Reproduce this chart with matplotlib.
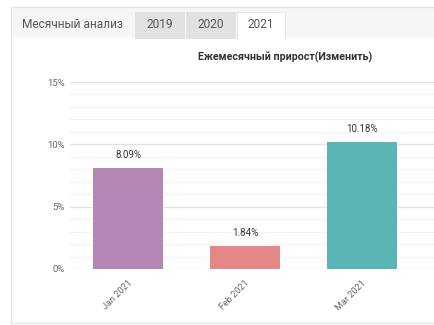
import matplotlib
import numpy as np

matplotlib.use("Agg")
import matplotlib.pyplot as plt
from matplotlib.patches import Rectangle
from matplotlib.ticker import FixedLocator, FuncFormatter

# 数据
months = ["Jan 2021", "Feb 2021", "Mar 2021"]
growth_pct = [8.09, 1.84, 10.18]
bar_colors = ["#b586b6", "#e38886", "#5bb5b5"]
y_major = [0, 5, 10, 15]
y_minor = list(range(0, 16))
tab_labels = ["Месячный анализ", "2019", "2020", "2021"]
title = "Ежемесячный прирост(Изменить)"

W, H = 434, 325
plt.rcParams["font.family"] = ["Roboto", "DejaVu Sans"]


def fx(px):
    return px / W


def fy(py):
    return 1 - py / H


def add_rect(fig, x0, y0, x1, y1, face, z=0):
    fig.patches.append(Rectangle((fx(x0), fy(y1)), fx(x1) - fx(x0), fy(y0) - fy(y1),
                                 transform=fig.transFigure, facecolor=face,
                                 edgecolor="none", zorder=z))


def add_line(fig, xs, ys, color="#e4e4e4", lw=0.9):
    fig.add_artist(plt.Line2D([fx(v) for v in xs], [fy(v) for v in ys],
                              transform=fig.transFigure, color=color, lw=lw))


fig = plt.figure(figsize=(W / 100, H / 100), dpi=100)
fig.patch.set_facecolor("white")

# 面板与标签页
add_rect(fig, 11, 7, W + 2, 38, "#f6f6f6", z=0)
add_line(fig, [11, W + 2], [7, 7])
add_line(fig, [11, 11], [7, 323])
add_line(fig, [11, W + 2], [322.5, 322.5])
add_rect(fig, 135, 12, 185, 38.5, "#e1e1e1", z=1)
add_rect(fig, 186, 12, 236, 38.5, "#e1e1e1", z=1)
add_rect(fig, 237, 12, 285, 39, "white", z=1)
add_line(fig, [237, 237, 285, 285], [38.5, 12, 12, 38.5], color="#e8e8e8", lw=0.8)
tab_x = [72, 160, 211, 261]
for label, x in zip(tab_labels, tab_x):
    fig.text(fx(x), fy(24.5), label, ha="center", va="center", fontsize=8.6, color="#555555")

fig.text(fx(285), fy(57), title, ha="center", va="center", fontsize=7.7, fontweight="bold", color="#333333")

# 图表区
ax = fig.add_axes([fx(70), fy(269), 1 - fx(70), fy(82) - fy(269)])
x = np.arange(len(months))
ax.bar(x, growth_pct, width=0.6, color=bar_colors, zorder=3)
for xi, v in zip(x, growth_pct):
    ax.annotate(f"{v:.2f}%", (xi, v), xytext=(0, 6), textcoords="offset points",
                ha="center", va="bottom", fontsize=7.0, color="#333333")

ax.set_xlim(-0.497, 2.62)
ax.set_ylim(0, 15)
ax.yaxis.set_major_locator(FixedLocator(y_major))
ax.yaxis.set_minor_locator(FixedLocator(y_minor))
ax.yaxis.set_major_formatter(FuncFormatter(lambda v, _: f"{v:g}%"))
ax.grid(axis="y", which="minor", color="#f3f3f3", lw=0.8, zorder=0)
ax.grid(axis="y", which="major", color="#e3e3e3", lw=1.0, zorder=0)
ax.set_xticks(x)
ax.set_xticklabels(months, rotation=45, ha="right", rotation_mode="anchor")
ax.tick_params(axis="x", length=0, pad=7, labelsize=6.6, labelcolor="#666666")
ax.tick_params(axis="y", which="both", length=0, pad=4, labelsize=6.8, labelcolor="#666666")
for s in ax.spines.values():
    s.set_visible(False)
ax.set_facecolor("none")

fig.savefig("out.png", dpi=100)
